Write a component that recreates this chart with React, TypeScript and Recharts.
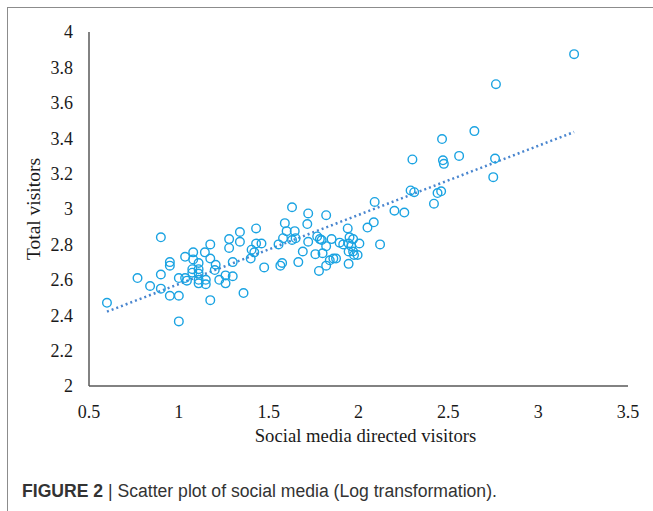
import React from 'react';
import { ScatterChart, Scatter, XAxis, YAxis, ReferenceLine, Label } from 'recharts';

const socialVisitors: number[] = [
  0.6, 0.77, 0.84, 0.9, 0.9, 0.9, 0.95, 0.95, 0.95, 1.0,
  1.0, 1.0, 1.035, 1.08, 1.08, 1.035, 1.045, 1.075, 1.075, 1.11,
  1.11, 1.11, 1.11, 1.11, 1.15, 1.15, 1.145, 1.175, 1.175, 1.175,
  1.205, 1.2, 1.225, 1.26, 1.26, 1.3, 1.3, 1.28, 1.28, 1.34,
  1.34, 1.36, 1.4, 1.405, 1.42, 1.43, 1.43, 1.46, 1.475, 1.555,
  1.565, 1.575, 1.58, 1.59, 1.6, 1.63, 1.645, 1.63, 1.65, 1.665,
  1.69, 1.72, 1.715, 1.72, 1.77, 1.785, 1.795, 1.76, 1.8, 1.78,
  1.82, 1.82, 1.82, 1.85, 1.84, 1.86, 1.875, 1.895, 1.915, 1.94,
  1.945, 1.945, 1.95, 1.96, 1.97, 1.97, 1.975, 1.995, 2.005, 1.945,
  2.05, 2.085, 2.09, 2.12, 2.2, 2.255, 2.29, 2.31, 2.3, 2.42,
  2.44, 2.46, 2.465, 2.47, 2.475, 2.56, 2.645, 2.75, 2.76, 2.765,
  3.2,
];

const totalVisitors: number[] = [
  2.47, 2.61, 2.565, 2.84, 2.63, 2.55, 2.7, 2.68, 2.51, 2.51,
  2.61, 2.365, 2.73, 2.755, 2.715, 2.61, 2.595, 2.66, 2.64, 2.695,
  2.66, 2.635, 2.6, 2.58, 2.6, 2.575, 2.755, 2.8, 2.72, 2.485,
  2.685, 2.655, 2.6, 2.625, 2.58, 2.62, 2.7, 2.83, 2.78, 2.87,
  2.815, 2.525, 2.72, 2.77, 2.755, 2.89, 2.805, 2.805, 2.67, 2.8,
  2.68, 2.695, 2.835, 2.92, 2.875, 3.01, 2.875, 2.825, 2.835, 2.7,
  2.76, 2.975, 2.915, 2.815, 2.845, 2.83, 2.825, 2.745, 2.75, 2.65,
  2.79, 2.68, 2.965, 2.83, 2.71, 2.72, 2.72, 2.81, 2.8, 2.89,
  2.76, 2.805, 2.84, 2.79, 2.83, 2.76, 2.74, 2.74, 2.805, 2.69,
  2.895, 2.925, 3.04, 2.8, 2.99, 2.98, 3.105, 3.095, 3.28, 3.03,
  3.09, 3.1, 3.395, 3.275, 3.255, 3.3, 3.44, 3.18, 3.285, 3.705,
  3.875,
];

const trendX: number[] = [0.6, 3.2];
const trendY: number[] = [2.42, 3.435];

const xTicks: number[] = [0.5, 1, 1.5, 2, 2.5, 3, 3.5];
const yTicks: number[] = [2, 2.2, 2.4, 2.6, 2.8, 3, 3.2, 3.4, 3.6, 3.8, 4];

const points = socialVisitors.map((x, i) => ({ x, y: totalVisitors[i] }));
const trendSegment = trendX.map((x, i) => ({ x, y: trendY[i] }));

const MARKER = '#1aa3e2';
const SERIF = '"Liberation Serif", "Times New Roman", serif';

const Ring = (props: any) => {
  const { cx, cy } = props;
  if (cx == null || cy == null) return <g />;
  return <circle cx={cx} cy={cy} r={4.3} fill="none" stroke={MARKER} strokeWidth={1.4} />;
};

export default function App() {
  return (
    <div style={{ position: 'absolute', left: 0, top: 0, width: 653, height: 511, background: '#fff', overflow: 'hidden' }}>
      <div
        style={{
          position: 'absolute',
          left: 7,
          top: 7,
          width: 700,
          height: 600,
          borderTop: '1.5px solid #8c8c8c',
          borderLeft: '1.5px solid #8c8c8c',
        }}
      />
      <div style={{ position: 'absolute', left: 0, top: 0 }}>
        <ScatterChart width={653} height={511} margin={{ top: 32, right: 25, bottom: 95, left: 0 }}>
          <XAxis
            type="number"
            dataKey="x"
            domain={[0.5, 3.5]}
            ticks={xTicks}
            height={30}
            tickLine={false}
            axisLine={{ stroke: '#595959', strokeWidth: 1.5 }}
            tick={{ fill: '#1a1a1a', fontSize: 18, fontFamily: SERIF }}
            tickMargin={13}
            interval={0}
            allowDataOverflow
          >
            <Label
              value="Social media directed visitors"
              position="bottom"
              offset={13}
              dx={7}
              style={{ fill: '#1a1a1a', fontSize: 18.7, fontFamily: SERIF }}
            />
          </XAxis>
          <YAxis
            type="number"
            dataKey="y"
            domain={[2, 4]}
            ticks={yTicks}
            width={89}
            tickLine={false}
            axisLine={{ stroke: '#595959', strokeWidth: 1.5 }}
            tick={{ fill: '#1a1a1a', fontSize: 18, fontFamily: SERIF }}
            tickMargin={10}
            interval={0}
            allowDataOverflow
          >
            <Label
              value="Total visitors"
              angle={-90}
              position="insideLeft"
              offset={33}
              style={{ fill: '#1a1a1a', fontSize: 19.5, fontFamily: SERIF, textAnchor: 'middle' }}
            />
          </YAxis>
          <ReferenceLine
            segment={trendSegment}
            stroke="#4a86cf"
            strokeWidth={2.5}
            strokeDasharray="2 3"
            ifOverflow="visible"
          />
          <Scatter data={points} shape={Ring} isAnimationActive={false} />
        </ScatterChart>
      </div>
      <div
        style={{
          position: 'absolute',
          left: 22,
          top: 481,
          fontFamily: '"Liberation Sans", Arial, sans-serif',
          fontSize: 17.6,
          color: '#333',
          whiteSpace: 'nowrap',
        }}
      >
        <span style={{ fontWeight: 'bold' }}>FIGURE 2</span> | Scatter plot of social media (Log transformation).
      </div>
    </div>
  );
}
